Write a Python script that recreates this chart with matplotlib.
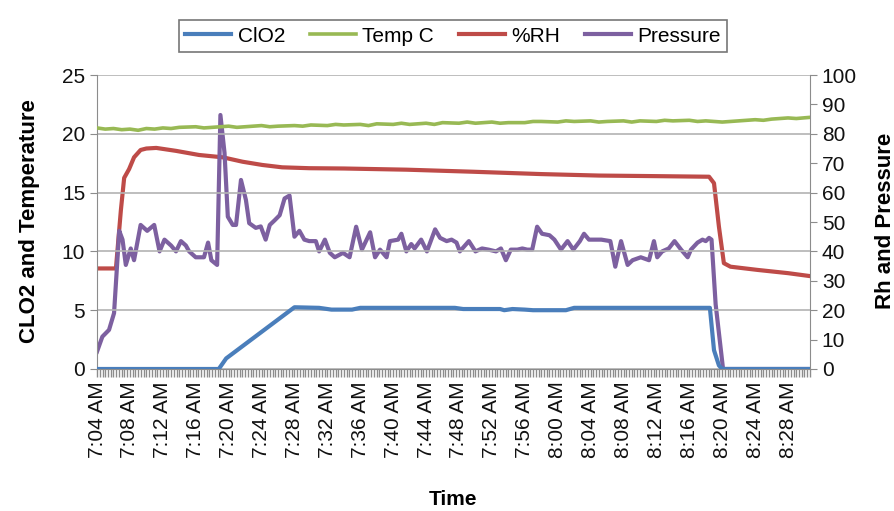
import matplotlib
matplotlib.use("Agg")
import matplotlib.pyplot as plt
import numpy as np

plt.rcParams['font.family'] = ['Liberation Sans', 'DejaVu Sans']

# time axis: minutes after 7:04 AM, one sample every 20 s
t_end = 86 + 2 / 3
tick_labels = ["7:04 AM", "7:08 AM", "7:12 AM", "7:16 AM", "7:20 AM", "7:24 AM",
               "7:28 AM", "7:32 AM", "7:36 AM", "7:40 AM", "7:44 AM", "7:48 AM",
               "7:52 AM", "7:56 AM", "8:00 AM", "8:04 AM", "8:08 AM", "8:12 AM",
               "8:16 AM", "8:20 AM", "8:24 AM", "8:28 AM"]

# ClO2 (left axis)
clo2_t = [0, 14.8, 15.7, 24, 27, 28.5, 31, 32, 43.5, 44.5, 49, 49.5, 50.5, 52, 53,
          57, 58, 74.5, 75, 75.6, 76, t_end]
clo2_v = [0, 0, 0.9, 5.25, 5.2, 5.05, 5.05, 5.2, 5.2, 5.1, 5.1, 5.0, 5.1, 5.05, 5.0,
          5.0, 5.2, 5.2, 1.6, 0.3, 0, 0]

# Temp C (left axis)
temp_t = [0, 1, 2, 3, 4, 5, 6, 7, 8, 9, 10, 12, 13, 14, 16, 17, 18, 20, 21, 22, 24, 25,
          26, 28, 29, 30, 32, 33, 34, 36, 37, 38, 40, 41, 42, 44, 45, 46, 48, 49, 50,
          52, 53, 54, 56, 57, 58, 60, 61, 62, 64, 65, 66, 68, 69, 70, 72, 73, 74, 76,
          77, 78, 80, 81, 82, 84, 85, t_end]
temp_v = [20.5, 20.4, 20.45, 20.35, 20.4, 20.3, 20.45, 20.4, 20.5, 20.45, 20.55, 20.6,
          20.5, 20.55, 20.65, 20.55, 20.6, 20.7, 20.6, 20.65, 20.7, 20.65, 20.75, 20.7,
          20.8, 20.75, 20.8, 20.7, 20.85, 20.8, 20.9, 20.8, 20.9, 20.8, 20.95, 20.9,
          21.0, 20.9, 21.0, 20.9, 20.95, 20.95, 21.05, 21.05, 21.0, 21.1, 21.05, 21.1,
          21.0, 21.05, 21.1, 21.0, 21.1, 21.05, 21.15, 21.1, 21.15, 21.05, 21.1, 21.0,
          21.05, 21.1, 21.2, 21.15, 21.25, 21.35, 21.3, 21.4]

# %RH (right axis)
rh_t = [0, 2.3, 2.9, 3.3, 3.9, 4.5, 5.3, 6, 7.2, 9.6, 12.4, 15.3, 17.7, 20.1, 22.5,
        25.8, 30, 37.6, 45.7, 54, 61, 68, 74.4, 75.0, 75.6, 76.2, 77, 80.3, 84, t_end]
rh_v = [34.2, 34.2, 54, 65, 68, 72, 74.5, 75, 75.2, 74.2, 72.8, 72, 70.5, 69.4, 68.6,
        68.3, 68.2, 67.8, 67.1, 66.3, 65.8, 65.6, 65.4, 63.2, 48.4, 36, 34.8, 33.7, 32.6,
        31.6]

# Pressure (right axis)
press_t = [0, 0.65, 1.46, 2.07, 2.7, 3.1, 3.5, 4.1, 4.5, 5.3, 6.1, 6.95, 7.6, 8.2, 9.0,
           9.6, 10.2, 10.8, 11.2, 12, 13, 13.5, 13.9, 14.6, 15, 15.5, 15.9, 16.5, 16.9,
           17.5, 18.1, 18.5, 19.3, 19.9, 20.5, 21, 21.6, 22.2, 22.8, 23.4, 24, 24.6,
           25.2, 25.8, 26.6, 27, 27.7, 28.3, 28.9, 29.9, 30.7, 31.5, 32.2, 33.2, 33.8,
           34.4, 35.2, 35.6, 36.6, 37, 37.6, 38.2, 38.6, 39.4, 40.1, 41.1, 41.7, 42.5,
           43.1, 43.7, 44.1, 45.2, 46, 46.8, 47.6, 48.5, 49.1, 49.7, 50.3, 51.1, 51.7,
           52.3, 52.9, 53.5, 54.1, 55, 55.6, 56.4, 57.2, 57.9, 58.7, 59.2, 59.8, 61.3,
           62.4, 63, 63.7, 64.5, 65.1, 66.1, 67.1, 67.7, 68.1, 68.7, 69.5, 70.2, 71,
           71.8, 72.2, 73, 73.6, 74, 74.4, 74.7, 75.2, 76.1, t_end]
press_v = [5.9, 11, 13.3, 19, 47, 44, 35.4, 41, 37, 49, 47, 49, 40, 44, 42, 40, 43.5, 42,
           40, 38, 38, 43, 37, 35.4, 86.4, 73.5, 51.8, 49, 49, 64.3, 57.5, 49.6, 48,
           48.5, 44, 49, 50.6, 52.3, 58, 59, 45, 47, 44, 43.5, 43.5, 40, 44, 39.5, 38,
           39.5, 38, 48.4, 40.6, 46.5, 38, 40.6, 38, 43.5, 44, 46, 40, 42.5, 41, 44, 40,
           47.5, 44.6, 43.5, 44, 43, 40, 43.5, 40, 41, 40.6, 40, 41, 37, 40.6, 40.6, 41,
           40.6, 40.6, 48.4, 46, 45.5, 44, 40.6, 43.5, 40.6, 43.5, 46, 44, 44, 43.5,
           34.8, 43.5, 35.4, 37, 38, 37, 43.5, 38, 40, 41, 43.5, 40.6, 38, 40.6, 43, 44,
           43.5, 44.6, 44, 22, 0, 0]

c_blue = '#4a7ebb'
c_green = '#98b954'
c_red = '#be4b48'
c_purple = '#7d60a0'
grid_c = '#b3b3b3'
axis_c = '#8c8c8c'

fig = plt.figure(figsize=(8.95, 5.11), dpi=100)
ax = fig.add_axes([0.1084, 0.2779, 0.7966, 0.5753])
ax2 = ax.twinx()

l1, = ax.plot(clo2_t, clo2_v, color=c_blue, lw=3, zorder=4, label='ClO2')
l2, = ax.plot(temp_t, temp_v, color=c_green, lw=2.6, zorder=3, label='Temp C')
l3, = ax2.plot(rh_t, rh_v, color=c_red, lw=3, zorder=3, label='%RH')
l4, = ax2.plot(press_t, press_v, color=c_purple, lw=3, zorder=4, label='Pressure')

ax.set_zorder(ax2.get_zorder() + 1)
ax.patch.set_visible(False)

ax.set_xlim(0, t_end)
ax.set_ylim(0, 25)
ax2.set_ylim(0, 100)
ax.set_yticks(np.arange(0, 26, 5))
ax2.set_yticks(np.arange(0, 101, 10))
ax.set_xticks(np.arange(0, 85, 4))
ax.set_xticklabels(tick_labels, rotation=90, fontsize=15)
ax.set_xticks(np.arange(0, t_end + 0.01, 1 / 3), minor=True)

ax.yaxis.grid(True, color=grid_c, lw=1.2)
ax.set_axisbelow(True)

for a in (ax, ax2):
    for s in a.spines.values():
        s.set_visible(False)
ax.spines['left'].set_visible(True)
ax.spines['left'].set_color(axis_c)
ax.spines['bottom'].set_visible(True)
ax.spines['bottom'].set_color(axis_c)
ax2.spines['right'].set_visible(True)
ax2.spines['right'].set_color(axis_c)

ax.tick_params(axis='y', color=axis_c, length=5, labelsize=15, labelcolor='#111111')
ax.tick_params(axis='x', which='major', color=axis_c, length=6, width=1.0,
               labelsize=15, labelcolor='#111111', pad=3)
ax.tick_params(axis='x', which='minor', bottom=True, color='#8c8c8c', length=6,
               width=1.0)
ax2.tick_params(axis='y', color=axis_c, length=5, labelsize=15, labelcolor='#111111')

fig.text(0.033, 0.568, 'CLO2 and Temperature', rotation=90, ha='center', va='center',
         fontsize=16, fontweight='bold')
fig.text(0.989, 0.568, 'Rh and Pressure', rotation=90, ha='center', va='center',
         fontsize=16, fontweight='bold')
fig.text(0.506, 0.022, 'Time', ha='center', va='center', fontsize=15, fontweight='bold')

leg = fig.legend(handles=[l1, l2, l3, l4], loc='center', bbox_to_anchor=(0.506, 0.9295),
                 ncol=4, fontsize=15, frameon=True, fancybox=False, handlelength=2.2,
                 columnspacing=1.2, handletextpad=0.3, borderpad=0.3)
leg.get_frame().set_edgecolor('#555555')
leg.get_frame().set_linewidth(1.2)

fig.savefig('out.png', dpi=100)
